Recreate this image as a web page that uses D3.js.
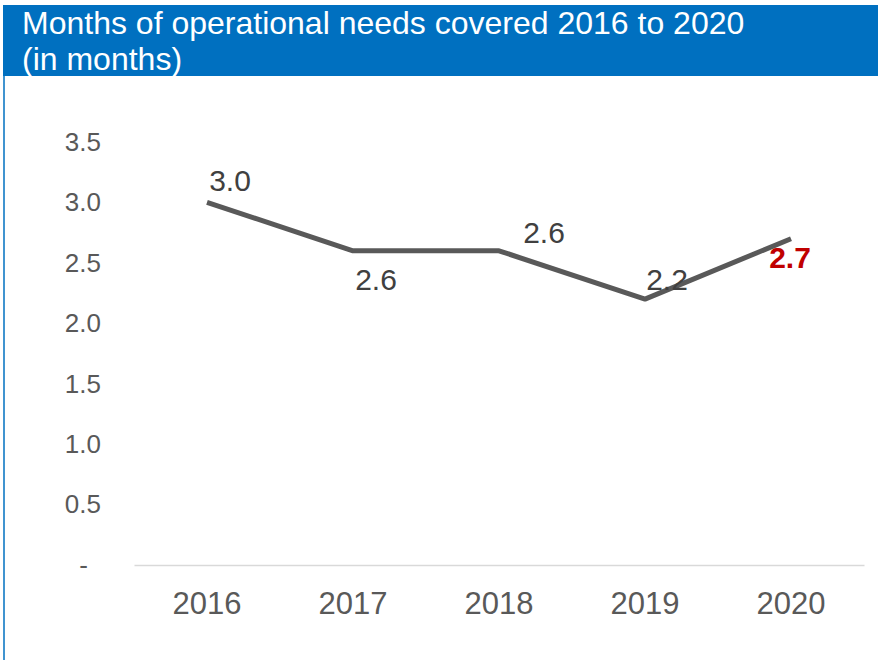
<!DOCTYPE html>
<html>
<head>
<meta charset="utf-8">
<script src="https://cdn.jsdelivr.net/npm/d3@7"></script>
<style>
  body { margin: 0; background: #fff; }
  svg { display: block; font-family: "Liberation Sans", Arial, sans-serif; }
</style>
</head>
<body>
<svg id="chart"></svg>
<script>
// Chart data
const years = ["2016", "2017", "2018", "2019", "2020"];
const months = [3.0, 2.6, 2.6, 2.2, 2.7];
const yTicks = [0, 0.5, 1.0, 1.5, 2.0, 2.5, 3.0, 3.5];
// where each value label sits relative to its point (dx, dy)
const labelOffsets = [[23, -11], [23, 39], [45, -8], [22, -9], [-1, 29]];

const width = 878;
const height = 660;

const svg = d3.select("#chart")
    .attr("width", width)
    .attr("height", height);

// Header band and left border
svg.append("rect")
    .attr("x", 3).attr("y", 5)
    .attr("width", width - 3).attr("height", 71)
    .attr("fill", "#0070C0");

svg.append("line")
    .attr("x1", 4).attr("x2", 4)
    .attr("y1", 76).attr("y2", height)
    .attr("stroke", "#0070C0")
    .attr("stroke-width", 1.5);

const title = svg.append("text")
    .attr("fill", "#fff")
    .attr("font-size", 32);
title.append("tspan").attr("x", 22).attr("y", 34).text("Months of operational needs covered 2016 to 2020");
title.append("tspan").attr("x", 22).attr("y", 70).text("(in months)");

// Scales
const x = d3.scaleBand()
    .domain(years)
    .range([134, 864]);

const y = d3.scaleLinear()
    .domain([0, 3.5])
    .range([565, 142]);

// Y axis labels (no axis line)
const yAxis = svg.append("g")
    .attr("transform", "translate(101,0)")
    .call(d3.axisLeft(y)
        .tickValues(yTicks)
        .tickSize(0)
        .tickPadding(0)
        .tickFormat(d => d === 0 ? "-" : d3.format(".1f")(d)));
yAxis.select(".domain").remove();
yAxis.selectAll("text")
    .attr("fill", "#595959")
    .attr("font-size", 26)
    .attr("font-family", "Liberation Sans, Arial, sans-serif")
    .attr("dx", d => d === 0 ? -13 : 0); // zero dash sits left, like Excel's accounting format

// X axis baseline + labels
const xAxis = svg.append("g")
    .attr("transform", `translate(0,${y(0)})`)
    .call(d3.axisBottom(x).tickSize(0).tickPadding(27));
xAxis.select(".domain")
    .attr("stroke", "#d9d9d9")
    .attr("stroke-width", 1.5);
xAxis.selectAll("text")
    .attr("fill", "#595959")
    .attr("font-size", 31)
    .attr("font-family", "Liberation Sans, Arial, sans-serif");

// Line
const line = d3.line()
    .x((d, i) => x(years[i]) + x.bandwidth() / 2)
    .y(d => y(d));

svg.append("path")
    .datum(months)
    .attr("d", line)
    .attr("fill", "none")
    .attr("stroke", "#595959")
    .attr("stroke-width", 5)
    .attr("stroke-linejoin", "round");

// Value labels
svg.selectAll(".value-label")
    .data(months)
    .enter()
    .append("text")
    .attr("class", "value-label")
    .attr("x", (d, i) => x(years[i]) + x.bandwidth() / 2 + labelOffsets[i][0])
    .attr("y", (d, i) => y(d) + labelOffsets[i][1])
    .attr("text-anchor", "middle")
    .attr("font-size", 30)
    .attr("font-weight", (d, i) => i === months.length - 1 ? "bold" : "normal")
    .attr("fill", (d, i) => i === months.length - 1 ? "#C00000" : "#404040")
    .text(d => d3.format(".1f")(d));
</script>
</body>
</html>
